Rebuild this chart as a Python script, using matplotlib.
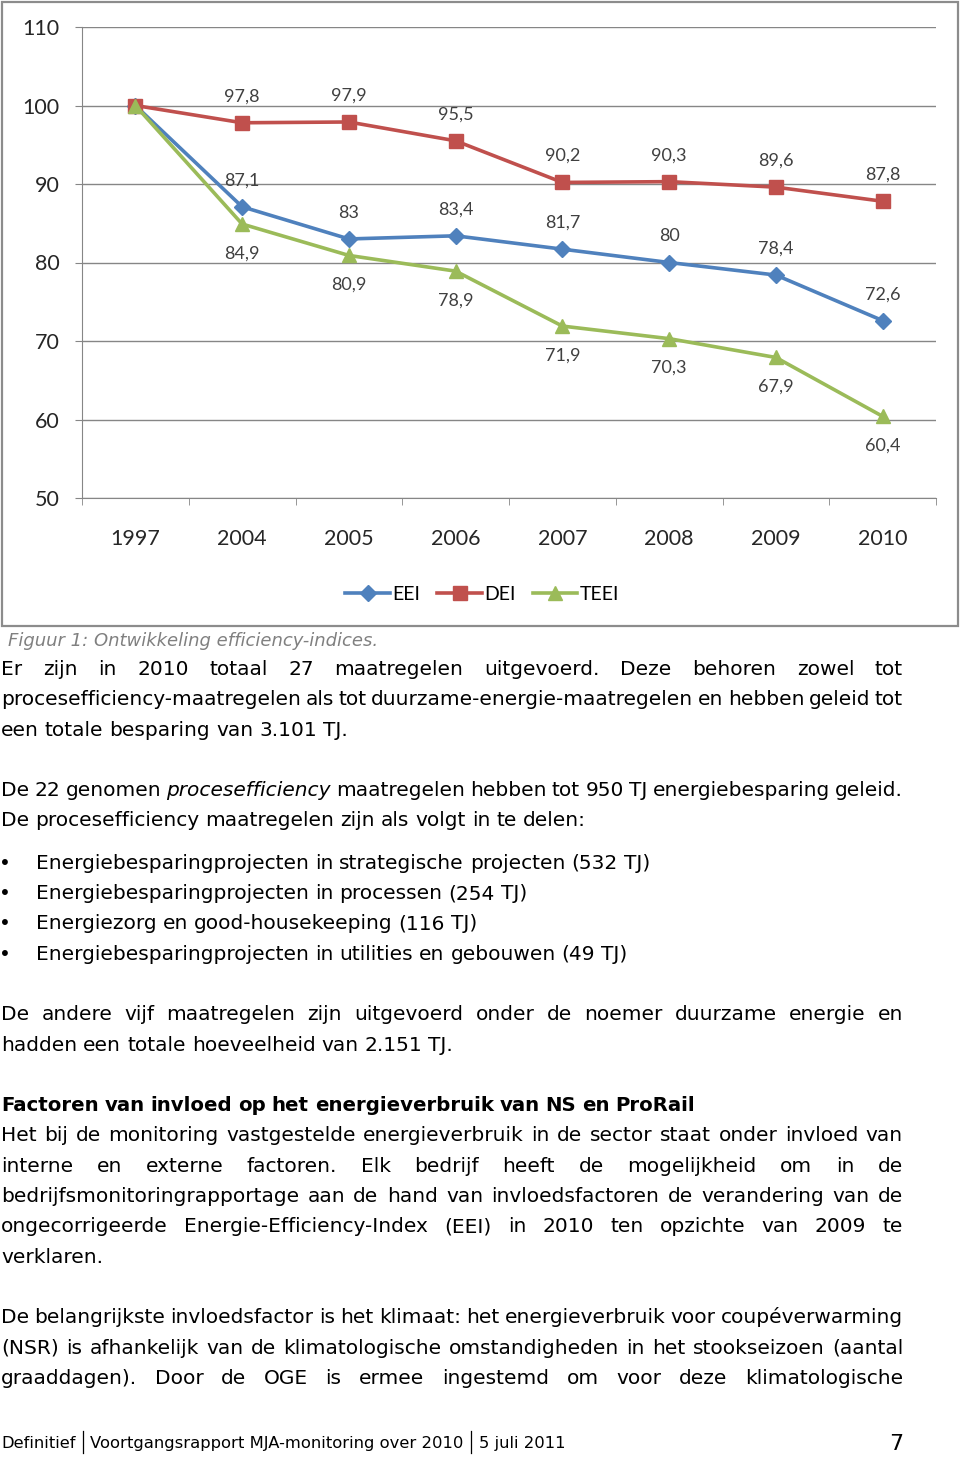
import matplotlib
matplotlib.use('Agg')
import numpy as np
import matplotlib.pyplot as plt
from matplotlib.patches import Rectangle

# chart data
years = ['1997', '2004', '2005', '2006', '2007', '2008', '2009', '2010']
eei = [100, 87.1, 83, 83.4, 81.7, 80, 78.4, 72.6]
dei = [100, 97.8, 97.9, 95.5, 90.2, 90.3, 89.6, 87.8]
teei = [100, 84.9, 80.9, 78.9, 71.9, 70.3, 67.9, 60.4]
yticks = [50, 60, 70, 80, 90, 100, 110]

# page text
caption = 'Figuur 1: Ontwikkeling efficiency-indices.'
para1 = ['Er zijn in 2010 totaal 27 maatregelen uitgevoerd. Deze behoren zowel tot',
         'procesefficiency-maatregelen als tot duurzame-energie-maatregelen en hebben geleid tot',
         'een totale besparing van 3.101 TJ.']
para2 = ['De 22 genomen *procesefficiency* maatregelen hebben tot 950 TJ energiebesparing geleid.',
         'De procesefficiency maatregelen zijn als volgt in te delen:']
bullets = ['Energiebesparingprojecten in strategische projecten (532 TJ)',
           'Energiebesparingprojecten in processen (254 TJ)',
           'Energiezorg en good-housekeeping (116 TJ)',
           'Energiebesparingprojecten in utilities en gebouwen (49 TJ)']
para3 = ['De andere vijf maatregelen zijn uitgevoerd onder de noemer duurzame energie en',
         'hadden een totale hoeveelheid van 2.151 TJ.']
heading = 'Factoren van invloed op het energieverbruik van NS en ProRail'
para4 = ['Het bij de monitoring vastgestelde energieverbruik in de sector staat onder invloed van',
         'interne en externe factoren. Elk bedrijf heeft de mogelijkheid om in de',
         'bedrijfsmonitoringrapportage aan de hand van invloedsfactoren de verandering van de',
         'ongecorrigeerde Energie-Efficiency-Index (EEI) in 2010 ten opzichte van 2009 te',
         'verklaren.']
para5 = ['De belangrijkste invloedsfactor is het klimaat: het energieverbruik voor coupéverwarming',
         '(NSR) is afhankelijk van de klimatologische omstandigheden in het stookseizoen (aantal',
         'graaddagen). Door de OGE is ermee ingestemd om voor deze klimatologische']
footer = ['Definitief', 'Voortgangsrapport MJA-monitoring over 2010', '5 juli 2011']
page_no = '7'

W, H = 960, 1457
BODY = 14.5
LINE = 30.3
BLUE, RED, GREEN = '#4F81BD', '#C0504D', '#9BBB59'
GRID = '#868686'
CHART_FONT = ['Lato', 'DejaVu Sans']


def draw_chart(fig, page):
    page.add_patch(Rectangle((2, 2), 956, 624, fill=False, edgecolor='#8c8c8c', lw=1.6))
    ax = fig.add_axes([82 / W, 1 - 498 / H, (936 - 82) / W, (498 - 27) / H])
    x = np.arange(len(years))
    ax.plot(x, eei, color=BLUE, lw=2.6, marker='D', ms=8, label='EEI', zorder=3)
    ax.plot(x, dei, color=RED, lw=2.6, marker='s', ms=10, label='DEI', zorder=3)
    ax.plot(x, teei, color=GREEN, lw=2.6, marker='^', ms=10, label='TEEI', zorder=3)

    for i in range(1, len(years)):
        for vals, off in [(dei, 19), (eei, 19), (teei, -21)]:
            ax.annotate(str(vals[i]).replace('.', ','), (x[i], vals[i]), xytext=(0, off),
                        textcoords='offset points', ha='center', va='center',
                        fontsize=13, color='#404040', family=CHART_FONT)

    ax.set_xlim(-0.5, len(years) - 0.5)
    ax.set_ylim(50, 110)
    ax.set_yticks(yticks)
    ax.yaxis.grid(True, color=GRID, lw=1)
    ax.set_axisbelow(True)
    ax.set_xticks(x)
    ax.set_xticklabels(years)
    ax.set_xticks(np.arange(-0.5, len(years)), minor=True)
    ax.tick_params(axis='x', which='major', length=0, pad=22, labelsize=15.5, labelcolor='#262626')
    ax.tick_params(axis='x', which='minor', length=5, color=GRID)
    ax.tick_params(axis='y', length=5, color=GRID, pad=11, labelsize=15.5, labelcolor='#262626')
    for lab in ax.get_xticklabels() + ax.get_yticklabels():
        lab.set_family(CHART_FONT)
    for s in ['top', 'right']:
        ax.spines[s].set_visible(False)
    for s in ['left', 'bottom']:
        ax.spines[s].set_color(GRID)
    ax.legend(loc='center', bbox_to_anchor=(482 / W, 1 - 594 / H), bbox_transform=fig.transFigure,
              ncol=3, frameon=False, numpoints=1, handlelength=2.3, handletextpad=0.1,
              columnspacing=0.9, prop={'family': CHART_FONT, 'size': 14})


def draw_line(page, renderer, y, line, justify, x0=1, x1=903, weight='normal', size=BODY):
    arts = []
    for w in line.split(' '):
        style = 'normal'
        if w.startswith('*') and w.endswith('*'):
            w = w[1:-1]
            style = 'italic'
        arts.append(page.text(x0, y + 8, w, fontsize=size, style=style, weight=weight,
                              va='baseline', ha='left', family='DejaVu Sans'))
    widths = [a.get_window_extent(renderer).width for a in arts]
    gap = 0.3 * size * 100 / 72
    if justify and len(arts) > 1:
        gap = max((x1 - x0 - sum(widths)) / (len(arts) - 1), 2)
    xx = x0
    for a, w in zip(arts, widths):
        a.set_x(xx)
        xx += w + gap


def draw_para(page, renderer, y, lines, last_justified=False, x0=1, weight='normal', size=BODY):
    for i, line in enumerate(lines):
        just = i < len(lines) - 1 or last_justified
        draw_line(page, renderer, y, line, just, x0=x0, weight=weight, size=size)
        y += LINE
    return y


def draw_footer(page, renderer):
    x = 1
    for i, part in enumerate(footer):
        t = page.text(x, 1448, part, fontsize=11.8, va='baseline', family='DejaVu Sans')
        x += t.get_window_extent(renderer).width
        if i < len(footer) - 1:
            x += 7
            page.plot([x, x], [1431, 1453], color='black', lw=0.9)
            x += 8
    page.text(903, 1450, page_no, fontsize=16, ha='right', va='baseline', family='DejaVu Sans')


def main():
    fig = plt.figure(figsize=(W / 100, H / 100), dpi=100)
    page = fig.add_axes([0, 0, 1, 1])
    page.set_xlim(0, W)
    page.set_ylim(H, 0)
    page.axis('off')
    renderer = fig.canvas.get_renderer()

    draw_chart(fig, page)

    page.text(8, 646, caption, fontsize=13, style='italic', color='#808080',
              va='baseline', family='DejaVu Sans')

    y = draw_para(page, renderer, 667, para1)
    y = draw_para(page, renderer, y + LINE, para2)
    y += 12
    for b in bullets:
        page.text(5, y + 8, '\u2022', fontsize=BODY, ha='center', va='baseline', family='DejaVu Sans')
        draw_line(page, renderer, y, b, False, x0=36)
        y += LINE
    y = draw_para(page, renderer, y + LINE, para3)
    y = draw_para(page, renderer, y + LINE, [heading], weight='bold', size=14.2)
    y = draw_para(page, renderer, y, para4)
    draw_para(page, renderer, y + LINE, para5, last_justified=True)

    draw_footer(page, renderer)

    fig.savefig('out.png', dpi=100, facecolor='white')


if __name__ == '__main__':
    main()
